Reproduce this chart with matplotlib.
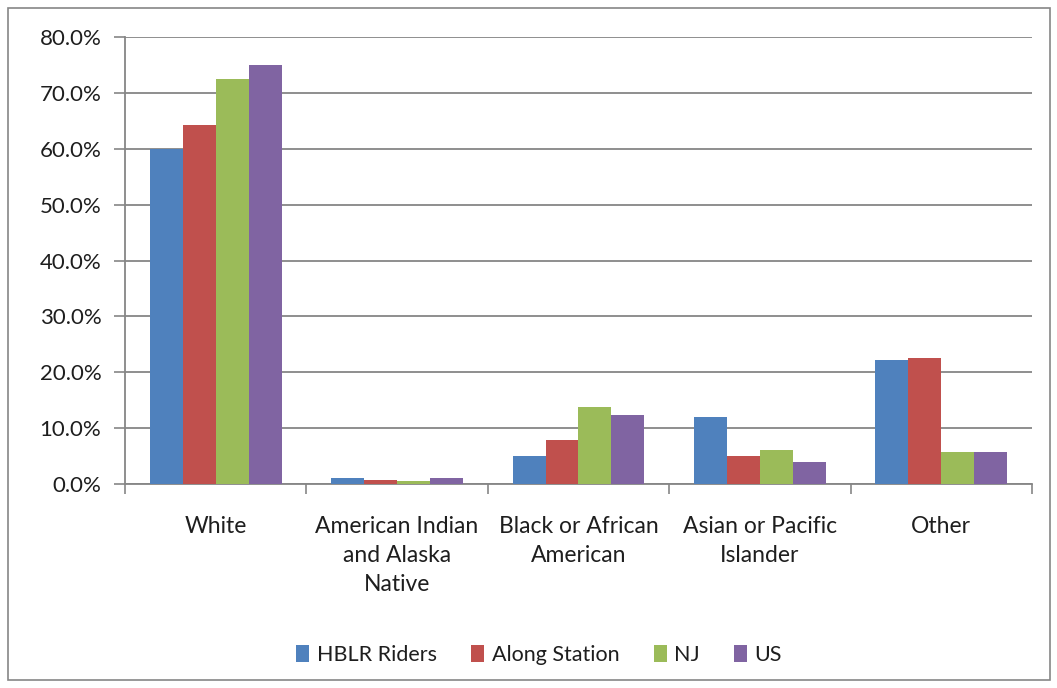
import matplotlib
matplotlib.use("Agg")
import matplotlib.pyplot as plt
from matplotlib.patches import Rectangle
import numpy as np

plt.rcParams['font.family'] = ['Lato', 'DejaVu Sans']

categories = ["White", "American Indian\nand Alaska\nNative", "Black or African\nAmerican",
              "Asian or Pacific\nIslander", "Other"]
series_names = ["HBLR Riders", "Along Station", "NJ", "US"]
hblr = [60.0, 1.1, 5.0, 12.0, 22.2]
along = [64.2, 0.8, 7.8, 5.0, 22.5]
nj = [72.4, 0.5, 13.7, 6.0, 5.7]
us = [75.0, 1.1, 12.3, 3.9, 5.7]
yticks = [0, 10, 20, 30, 40, 50, 60, 70, 80]

colors = ["#4F81BD", "#C0504D", "#9BBB59", "#8064A2"]
grey = "#868686"
txt = "#1e1e1e"
fs = 16.5

fig = plt.figure(figsize=(10.57, 6.88), dpi=100)
ax = fig.add_axes([0.1183, 0.2965, 0.858, 0.6497])

x = np.arange(len(categories))
w = 1 / 5.5
for i, vals in enumerate([hblr, along, nj, us]):
    ax.bar(x + (i - 1.5) * w, vals, width=w, color=colors[i], label=series_names[i], zorder=3)

ax.set_xlim(-0.5, len(categories) - 0.5)
ax.set_ylim(0, 80)
ax.set_yticks(yticks)
ax.set_yticklabels(["%.1f%%" % v for v in yticks], fontsize=16, color=txt)
ax.yaxis.grid(True, color=grey, linewidth=1.3, zorder=0)

ax.set_xticks(x)
ax.set_xticklabels(categories, fontsize=fs, color=txt, linespacing=1.46)
ax.set_xticks(np.arange(-0.5, len(categories)), minor=True)
ax.tick_params(axis="x", which="major", length=0, pad=23)
ax.tick_params(axis="x", which="minor", length=7, color=grey, width=1.2)
ax.tick_params(axis="y", length=8, color=grey, width=1.2, pad=9)

for s in ["top", "right"]:
    ax.spines[s].set_visible(False)
for s in ["left", "bottom"]:
    ax.spines[s].set_color(grey)
    ax.spines[s].set_linewidth(1.3)

fig.legend(loc="center", bbox_to_anchor=(0.51, 0.048), ncol=4, frameon=False,
           fontsize=15.5, handlelength=0.6, handleheight=0.8, handletextpad=0.35,
           columnspacing=1.6, labelcolor=txt)

fig.patches.append(Rectangle((8 / 1057, 8 / 688), 1042 / 1057, 672 / 688,
                             transform=fig.transFigure, fill=False,
                             edgecolor=grey, linewidth=1.2))

fig.savefig("out.png", dpi=100)
